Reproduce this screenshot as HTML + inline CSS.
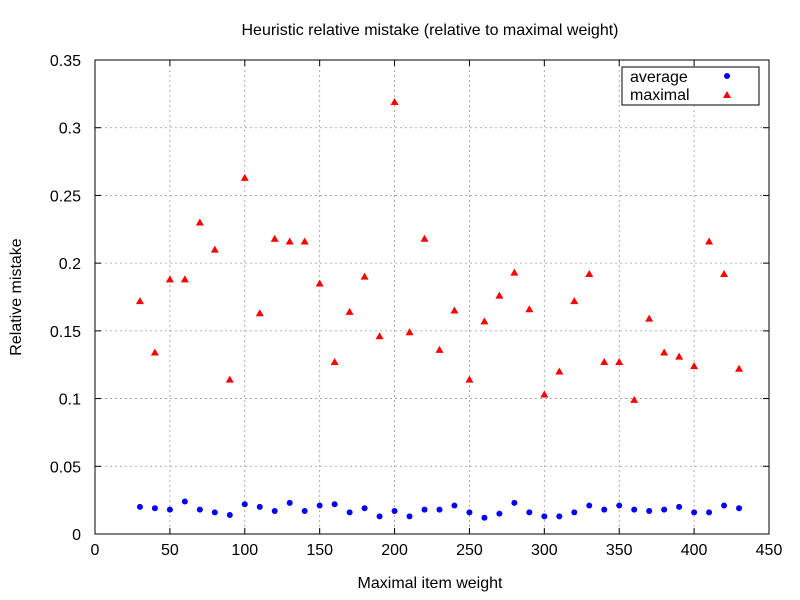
<!DOCTYPE html>
<html><head><meta charset="utf-8"><style>
html,body{margin:0;padding:0;background:#fff}
svg{display:block;font-family:"Liberation Sans",sans-serif}
</style></head><body>
<svg id="chart" width="800" height="600" viewBox="0 0 800 600"></svg>
<script>
const xValues=[30,40,50,60,70,80,90,100,110,120,130,140,150,160,170,180,190,200,210,220,230,240,250,260,270,280,290,300,310,320,330,340,350,360,370,380,390,400,410,420,430];
const averageValues=[0.020,0.019,0.018,0.024,0.018,0.016,0.014,0.022,0.020,0.017,0.023,0.017,0.021,0.022,0.016,0.019,0.013,0.017,0.013,0.018,0.018,0.021,0.016,0.012,0.015,0.023,0.016,0.013,0.013,0.016,0.021,0.018,0.021,0.018,0.017,0.018,0.020,0.016,0.016,0.021,0.019];
const maximalValues=[0.172,0.134,0.188,0.188,0.230,0.210,0.114,0.263,0.163,0.218,0.216,0.216,0.185,0.127,0.164,0.190,0.146,0.319,0.149,0.218,0.136,0.165,0.114,0.157,0.176,0.193,0.166,0.103,0.120,0.172,0.192,0.127,0.127,0.099,0.159,0.134,0.131,0.124,0.216,0.192,0.122];
const xTicks=[0,50,100,150,200,250,300,350,400,450];
const yTicks=[0,0.05,0.1,0.15,0.2,0.25,0.3,0.35];
const yTickLabels=["0","0.05","0.1","0.15","0.2","0.25","0.3","0.35"];

const L=95,R=769,T=60,B=534;
const sx=v=>L+(v-0)/450*(R-L);
const sy=v=>B-(v/0.35)*(B-T);
const svg=document.getElementById('chart');
const NS='http://www.w3.org/2000/svg';
function mk(tag,attrs,parent){const e=document.createElementNS(NS,tag);for(const k in attrs)e.setAttribute(k,attrs[k]);(parent||svg).appendChild(e);return e;}

const grid=mk('g',{});


xTicks.forEach(t=>{
  if(t>0&&t<450){mk('line',{x1:sx(t),x2:sx(t),y1:T,y2:B,stroke:'#999','stroke-width':0.8,'stroke-dasharray':'2,3'},grid);}
  const tk=mk('text',{x:sx(t),y:B+21,'text-anchor':'middle','font-size':16});
  tk.textContent=t;
  
  
  mk('line',{x1:sx(t),x2:sx(t),y1:B,y2:B-6,stroke:'#000'});
  mk('line',{x1:sx(t),x2:sx(t),y1:T,y2:T+6,stroke:'#000'});
});
yTicks.forEach((t,i)=>{
  if(t>0&&t<0.35){mk('line',{x1:L,x2:R,y1:sy(t),y2:sy(t),stroke:'#999','stroke-width':0.8,'stroke-dasharray':'2,3'},grid);}
  const tk=mk('text',{x:L-14,y:sy(t)+6,'text-anchor':'end','font-size':16});
  tk.textContent=yTickLabels[i];
  
  
  mk('line',{x1:L,x2:L+6,y1:sy(t),y2:sy(t),stroke:'#000'});
  mk('line',{x1:R,x2:R-6,y1:sy(t),y2:sy(t),stroke:'#000'});
});
const frame=mk('rect',{x:L,y:T,width:R-L,height:B-T,fill:'none',stroke:'#000'});



const title=mk('text',{x:430,y:35,'text-anchor':'middle','font-size':16});
title.textContent='Heuristic relative mistake (relative to maximal weight)';


const xt=mk('text',{x:430,y:588,'text-anchor':'middle','font-size':16});
xt.textContent='Maximal item weight';


const yt=mk('text',{x:21,y:297,'text-anchor':'middle','font-size':16,transform:'rotate(-90 21 297)'});
yt.textContent='Relative mistake';



function tri(x,y,parent){return mk('polygon',{points:`${x},${y-4} ${x-4},${y+3} ${x+4},${y+3}`,fill:'#f00'},parent);}
function dot(x,y,parent){return mk('circle',{cx:x,cy:y,r:3,fill:'#00f'},parent);}

xValues.forEach((xv,i)=>{
  const p=dot(sx(xv),sy(averageValues[i]));
  
  
  const q=tri(sx(xv),sy(maximalValues[i]));
  
  
});

const lg=mk('g',{});


mk('rect',{x:622,y:67,width:137,height:38,fill:'#fff',stroke:'#000'},lg);
const l1=mk('text',{x:630,y:82,'font-size':16},lg);l1.textContent='average';


dot(727,76,lg);
const l2=mk('text',{x:630,y:100,'font-size':16},lg);l2.textContent='maximal';


tri(727,95,lg);
</script>
</body></html>
